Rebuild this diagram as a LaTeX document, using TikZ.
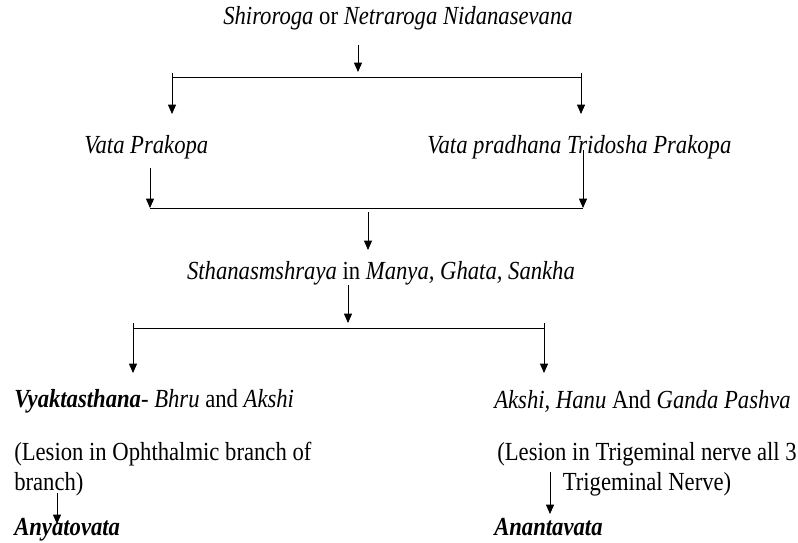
\documentclass[tikz,border=0pt]{standalone}
\usepackage{fontspec}
\setmainfont{Liberation Serif}
\usetikzlibrary{arrows.meta, positioning}
\newcommand{\tall}[1]{\scalebox{1}[1.15]{#1}}

\begin{document}
\begin{tikzpicture}[x=0.75pt, y=-0.75pt,
    txt/.style={inner sep=0pt, font=\fontsize{17}{19.5}\selectfont},
    arr/.style={-{Triangle[length=7pt, width=6pt]}, line width=0.6pt},
    bar/.style={line width=0.6pt}]
    \useasboundingbox (0,0) rectangle (798,542);
    % Top cause
    \node[txt] (cause) at (398,18) {\tall{\textit{Shiroroga} or \textit{Netraroga Nidanasevana}}};
    \coordinate (c1) at (358,45);
    \coordinate (c1t) at (358,72);
    \draw[arr] (c1) -- (c1t);
    % First split
    \coordinate (s1l) at (172,77);
    \coordinate (s1r) at (581,77);
    \draw[bar] (172,73) -- (s1l) -- (s1r) -- (581,73);
    \coordinate (s1lt) at (172,114);
    \coordinate (s1rt) at (581,114);
    \draw[arr] (s1l) -- (s1lt);
    \draw[arr] (s1r) -- (s1rt);
    % Prakopa
    \node[txt, anchor=west] (vata) at (84,147) {\tall{\textit{Vata Prakopa}}};
    \node[txt, anchor=west] (tri) at (427,147) {\tall{\textit{Vata pradhana Tridosha Prakopa}}};
    % Join
    \coordinate (j1l) at (150,208);
    \coordinate (j1r) at (583,208);
    \coordinate (j1c) at (368,212);
    \coordinate (j1ct) at (368,250);
    \draw[arr] (150,168) -- (j1l);
    \draw[arr] (583,150) -- (j1r);
    \draw[bar] (j1l) -- (j1r);
    \draw[arr] (j1c) -- (j1ct);
    % Sthanasamshraya
    \node[txt] (sthana) at (381,273) {\tall{\textit{Sthanasmshraya} in \textit{Manya, Ghata, Sankha}}};
    \coordinate (s2) at (348,285);
    \coordinate (s2t) at (348,323);
    \draw[arr] (s2) -- (s2t);
    % Second split
    \coordinate (s2l) at (133,328);
    \coordinate (s2r) at (544,328);
    \draw[bar] (133,323) -- (s2l) -- (s2r) -- (544,323);
    \coordinate (s2lt) at (133,373);
    \coordinate (s2rt) at (544,373);
    \draw[arr] (s2l) -- (s2lt);
    \draw[arr] (s2r) -- (s2rt);
    % Left branch
    \node[txt, anchor=west] (vyakta) at (14,401) {\tall{\textbf{\textit{Vyaktasthana}}- \textit{Bhru} and \textit{Akshi}}};
    \node[txt, anchor=north west] (oph) at (14,439) {\tall{\begin{tabular}{@{}l@{}}(Lesion in Ophthalmic branch of\\branch)\end{tabular}}};
    \node[txt, anchor=base west] (anya) at (14,535) {\tall{\textbf{\textit{Anyatovata}}}};
    \coordinate (a1) at (57,493);
    \coordinate (a1t) at (57,524);
    \draw[arr] (a1) -- (a1t);
    % Right branch
    \node[txt, anchor=west] (akshi) at (494,401) {\tall{\textit{Akshi, Hanu} And \textit{Ganda Pashva}}};
    \node[txt, anchor=north] (trig) at (647,439) {\tall{\begin{tabular}{@{}c@{}}(Lesion in Trigeminal nerve all 3\\Trigeminal Nerve)\end{tabular}}};
    \node[txt, anchor=base west] (ananta) at (494,535) {\tall{\textbf{\textit{Anantavata}}}};
    \coordinate (a2) at (550,472);
    \coordinate (a2t) at (550,514);
    \draw[arr] (a2) -- (a2t);
\end{tikzpicture}
\end{document}
